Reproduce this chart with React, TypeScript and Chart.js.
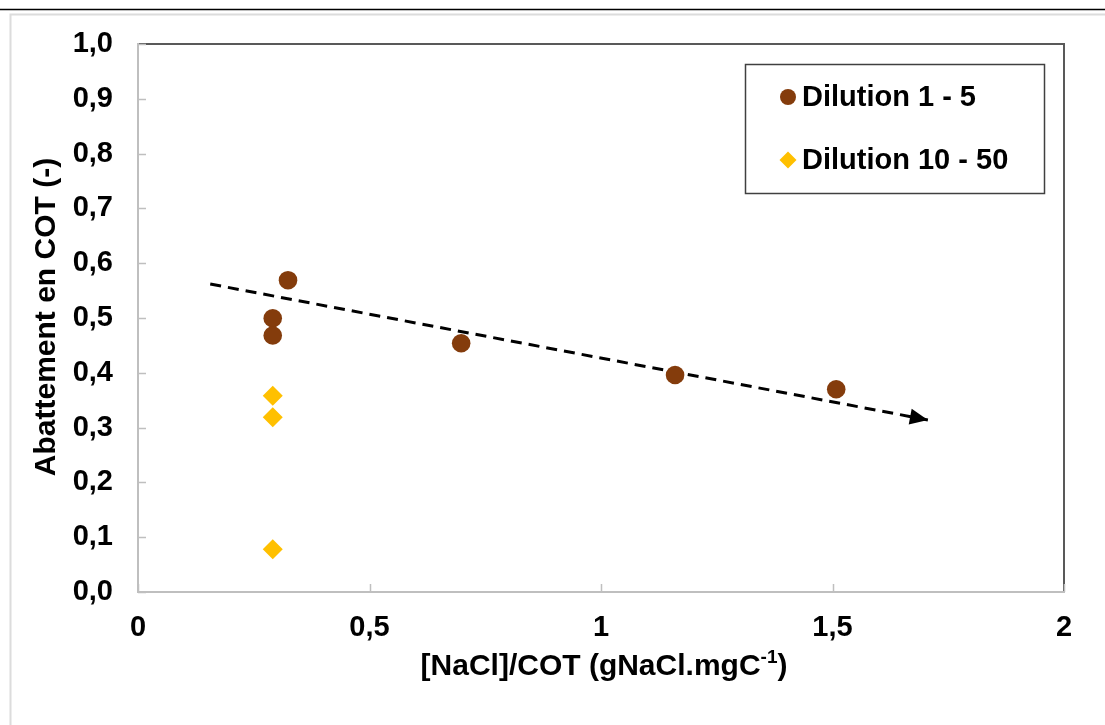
import React, { useEffect, useRef } from "react";
import { Chart, registerables } from "chart.js";

Chart.register(...registerables);

// ---- data ----
const seriesALabel = "Dilution 1 - 5";
const seriesAX = [0.324, 0.291, 0.291, 0.698, 1.16, 1.508];
const seriesAY = [0.569, 0.4995, 0.468, 0.454, 0.396, 0.37];
const seriesAColor = "#843C0C";

const seriesBLabel = "Dilution 10 - 50";
const seriesBX = [0.291, 0.291, 0.291];
const seriesBY = [0.358, 0.319, 0.078];
const seriesBColor = "#FFC000";

const trendX = [0.156, 1.706];
const trendY = [0.562, 0.314];

const xTicks = [0, 0.5, 1, 1.5, 2];
const yTicks = [0, 0.1, 0.2, 0.3, 0.4, 0.5, 0.6, 0.7, 0.8, 0.9, 1.0];

const xTitleMain = "[NaCl]/COT (gNaCl.mgC";
const xTitleSup = "-1";
const xTitleEnd = ")";
const yTitle = "Abattement en COT (-)";

const FONT = "'Liberation Sans', Arial, sans-serif";
const TXT = 29;
const TITLE = 30;

const fmtX = (v: number) => String(Math.round(v * 10) / 10).replace(".", ",");
const fmtY = (v: number) => v.toFixed(1).replace(".", ",");

const decor = {
  id: "decor",
  beforeDraw(chart: any) {
    const ctx = chart.ctx as CanvasRenderingContext2D;
    ctx.save();
    ctx.fillStyle = "#ffffff";
    ctx.fillRect(0, 0, chart.width, chart.height);
    // page frame
    ctx.strokeStyle = "#000000";
    ctx.lineWidth = 1.5;
    ctx.beginPath();
    ctx.moveTo(0, 9.5);
    ctx.lineTo(chart.width, 9.5);
    ctx.stroke();
    ctx.strokeStyle = "#dcdcdc";
    ctx.lineWidth = 2;
    ctx.beginPath();
    ctx.moveTo(chart.width, 14.5);
    ctx.lineTo(10.5, 14.5);
    ctx.lineTo(10.5, chart.height);
    ctx.stroke();
    ctx.restore();
  },
  beforeDatasetsDraw(chart: any) {
    const ctx = chart.ctx as CanvasRenderingContext2D;
    const { left, right, top, bottom } = chart.chartArea;
    const xs = chart.scales.x;
    const ys = chart.scales.y;
    ctx.save();
    // top & right border
    ctx.strokeStyle = "#595959";
    ctx.lineWidth = 2;
    ctx.beginPath();
    ctx.moveTo(left, top);
    ctx.lineTo(right, top);
    ctx.lineTo(right, bottom);
    ctx.stroke();
    // axes
    ctx.strokeStyle = "#BFBFBF";
    ctx.lineWidth = 2;
    ctx.beginPath();
    ctx.moveTo(left, top - 1);
    ctx.lineTo(left, bottom);
    ctx.lineTo(right + 1, bottom);
    ctx.stroke();
    // inward tick marks
    ctx.lineWidth = 1.5;
    ctx.beginPath();
    yTicks.forEach((v) => {
      const y = Math.round(ys.getPixelForValue(v)) + 0.5;
      ctx.moveTo(left, y);
      ctx.lineTo(left + 8, y);
    });
    xTicks.forEach((v) => {
      const x = Math.round(xs.getPixelForValue(v)) + 0.5;
      ctx.moveTo(x, bottom);
      ctx.lineTo(x, bottom - 8);
    });
    ctx.stroke();
    ctx.restore();
  },
  afterDatasetsDraw(chart: any) {
    const ctx = chart.ctx as CanvasRenderingContext2D;
    const { left, right, top, bottom } = chart.chartArea;
    const xs = chart.scales.x;
    const ys = chart.scales.y;
    ctx.save();
    // arrowhead on trend
    const x0 = xs.getPixelForValue(trendX[0]);
    const y0 = ys.getPixelForValue(trendY[0]);
    const x1 = xs.getPixelForValue(trendX[1]);
    const y1 = ys.getPixelForValue(trendY[1]);
    const ang = Math.atan2(y1 - y0, x1 - x0);
    const L = 18;
    const W = 8;
    ctx.fillStyle = "#000";
    ctx.beginPath();
    ctx.moveTo(x1, y1);
    ctx.lineTo(
      x1 - L * Math.cos(ang) + W * Math.sin(ang),
      y1 - L * Math.sin(ang) - W * Math.cos(ang)
    );
    ctx.lineTo(
      x1 - L * Math.cos(ang) - W * Math.sin(ang),
      y1 - L * Math.sin(ang) + W * Math.cos(ang)
    );
    ctx.closePath();
    ctx.fill();

    // legend box
    ctx.strokeStyle = "#404040";
    ctx.lineWidth = 1.5;
    ctx.strokeRect(745.5, 64.5, 299, 129);
    ctx.font = `bold ${TXT}px ${FONT}`;
    ctx.textBaseline = "middle";
    ctx.textAlign = "left";
    // item 1
    ctx.fillStyle = seriesAColor;
    ctx.beginPath();
    ctx.arc(788, 97, 8, 0, Math.PI * 2);
    ctx.fill();
    ctx.fillStyle = "#000";
    ctx.fillText(seriesALabel, 802, 98);
    // item 2
    ctx.fillStyle = seriesBColor;
    ctx.beginPath();
    ctx.moveTo(788 - 8.5, 160);
    ctx.lineTo(788, 160 - 8.5);
    ctx.lineTo(788 + 8.5, 160);
    ctx.lineTo(788, 160 + 8.5);
    ctx.closePath();
    ctx.fill();
    ctx.fillStyle = "#000";
    ctx.fillText(seriesBLabel, 802, 161);

    // x title with superscript
    const mainFont = `bold ${TITLE}px ${FONT}`;
    const supFont = `bold ${Math.round(TITLE * 0.62)}px ${FONT}`;
    ctx.font = mainFont;
    const w1 = ctx.measureText(xTitleMain).width;
    const w3 = ctx.measureText(xTitleEnd).width;
    ctx.font = supFont;
    const w2 = ctx.measureText(xTitleSup).width;
    const total = w1 + w2 + w3;
    const cx = (left + right) / 2 + 3;
    const ty = 667;
    let sx = cx - total / 2;
    ctx.textBaseline = "middle";
    ctx.font = mainFont;
    ctx.fillText(xTitleMain, sx, ty);
    sx += w1;
    ctx.font = supFont;
    ctx.fillText(xTitleSup, sx, ty - 9);
    sx += w2;
    ctx.font = mainFont;
    ctx.fillText(xTitleEnd, sx, ty);

    // y title
    ctx.save();
    ctx.translate(47, (top + bottom) / 2 - 1);
    ctx.rotate(-Math.PI / 2);
    ctx.textAlign = "center";
    ctx.textBaseline = "middle";
    ctx.font = mainFont;
    ctx.fillText(yTitle, 0, 0);
    ctx.restore();

    ctx.restore();
  },
};

export default function App() {
  const ref = useRef<HTMLCanvasElement>(null);
  useEffect(() => {
    const chart = new Chart(ref.current as HTMLCanvasElement, {
      type: "scatter",
      data: {
        datasets: [
          {
            label: seriesALabel,
            data: seriesAX.map((x, i) => ({ x, y: seriesAY[i] })),
            pointStyle: "circle",
            pointRadius: 9.3,
            backgroundColor: seriesAColor,
            borderColor: seriesAColor,
            borderWidth: 0,
            order: 1,
          },
          {
            label: seriesBLabel,
            data: seriesBX.map((x, i) => ({ x, y: seriesBY[i] })),
            pointStyle: "rectRot",
            pointRadius: 10,
            backgroundColor: seriesBColor,
            borderColor: seriesBColor,
            borderWidth: 0,
            order: 1,
          },
          {
            label: "Tendance",
            data: trendX.map((x, i) => ({ x, y: trendY[i] })),
            showLine: true,
            borderColor: "#000000",
            borderWidth: 3,
            borderDash: [11, 7],
            pointRadius: 0,
            fill: false,
            order: 2,
          } as any,
        ],
      },
      options: {
        responsive: false,
        animation: false,
        events: [],
        layout: { padding: { left: 0, top: 44, right: 41, bottom: 0 } },
        plugins: {
          legend: { display: false },
          tooltip: { enabled: false },
          title: { display: false },
        },
        scales: {
          x: {
            type: "linear",
            min: 0,
            max: 2,
            grid: { display: false },
            border: { display: false },
            afterFit: (s: any) => {
              s.height = 133;
            },
            afterBuildTicks: (s: any) => {
              s.ticks = xTicks.map((v) => ({ value: v }));
            },
            ticks: {
              autoSkip: false,
              maxRotation: 0,
              padding: 11,
              color: "#000",
              font: { family: FONT, size: TXT, weight: "bold" },
              callback: (v: any) => fmtX(Number(v)),
            },
          },
          y: {
            type: "linear",
            min: 0,
            max: 1,
            grid: { display: false },
            border: { display: false },
            afterFit: (s: any) => {
              s.width = 138;
            },
            afterBuildTicks: (s: any) => {
              s.ticks = yTicks.map((v) => ({ value: v }));
            },
            ticks: {
              autoSkip: false,
              padding: 17,
              color: "#000",
              font: { family: FONT, size: TXT, weight: "bold" },
              callback: (v: any) => fmtY(Number(v)),
            },
          },
        },
      } as any,
      plugins: [decor],
    });
    return () => chart.destroy();
  }, []);
  return (
    <div
      style={{
        position: "absolute",
        left: 0,
        top: 0,
        width: 1105,
        height: 725,
        background: "#fff",
      }}
    >
      <canvas ref={ref} width={1105} height={725} style={{ display: "block" }} />
    </div>
  );
}
